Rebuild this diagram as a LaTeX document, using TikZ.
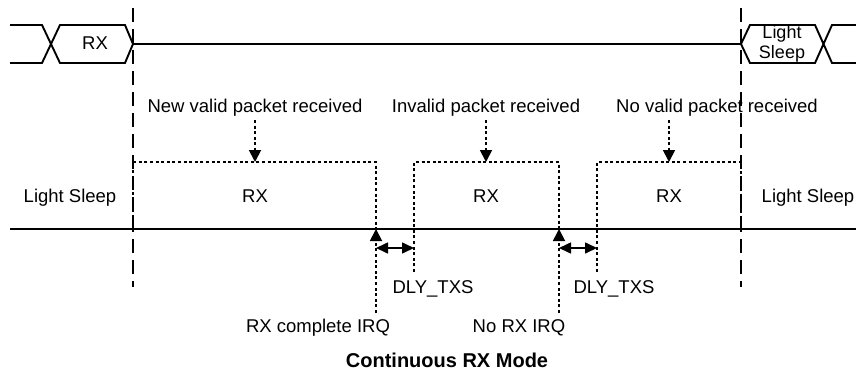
\documentclass[tikz,border=0pt]{standalone}
\usepackage{fontspec}
\setmainfont{Liberation Sans}
\usetikzlibrary{arrows.meta}
\begin{document}
\begin{tikzpicture}[x=1pt,y=-1pt,
  sig/.style={line width=1.9pt, line join=miter},
  guide/.style={line width=1.8pt, dash pattern=on 14pt off 7pt},
  dots/.style={line width=1.8pt, dash pattern=on 3pt off 2.6pt},
  lbl/.style={font=\fontsize{18.5}{20}\selectfont, inner sep=0pt, anchor=base},
  ttl/.style={font=\fontsize{20}{22}\selectfont\bfseries, inner sep=0pt, anchor=base},
  tip/.style={-{Triangle[length=12pt,width=12pt]}},
  dbl/.style={{Triangle[length=12pt,width=11pt]}-{Triangle[length=12pt,width=11pt]}, line width=1.6pt}
]
\useasboundingbox (0,0) rectangle (856,372);

% ---- top waveform ----
\draw[sig] (10,25) -- (42,25) -- (60,63) -- (125,63) -- (133,44) -- (125,25) -- (60,25) -- (42,63) -- (10,63);
\draw[sig] (133,44) -- (741,44);
\draw[sig] (856,25) -- (832,25) -- (815,63) -- (750,63) -- (741,44) -- (750,25) -- (815,25) -- (832,63) -- (856,63);
\node[lbl] (rxtop) at (95,49) {RX};
\node[font=\fontsize{18}{20}\selectfont, inner sep=0pt, align=center] (lstop) at (782,43.5) {Light\\Sleep};

% ---- guides ----
\coordinate (g1t) at (133,8);  \coordinate (g1b) at (133,287);
\coordinate (g2t) at (741,8);  \coordinate (g2b) at (741,287);
\draw[guide] (g1t) -- (g1b);
\draw[guide] (g2t) -- (g2b);

% ---- time axis ----
\coordinate (axL) at (10,229); \coordinate (axR) at (856,229);
\draw[sig] (axL) -- (axR);

% ---- RX windows ----
\draw[dots] (133,229) -- (133,162) -- (376,162) -- (376,229);
\draw[dots] (414,272) -- (414,162) -- (559,162) -- (559,229);
\draw[dots] (597,272) -- (597,162) -- (741,162) -- (741,229);

\node[lbl] (rx1) at (255,202) {RX};
\node[lbl] (rx2) at (486,202) {RX};
\node[lbl] (rx3) at (669,202) {RX};
\node[lbl] (lsl) at (70,202) {Light Sleep};
\node[lbl] (lsr) at (808,202) {Light Sleep};

% ---- event labels ----
\node[lbl] (ev1) at (255,112) {New valid packet received};
\node[lbl] (ev2) at (486,112) {Invalid packet received};
\node[lbl] (ev3) at (717,112) {No valid packet received};
\coordinate (e1s) at (255,120); \coordinate (e1t) at (255,162);
\coordinate (e2s) at (486,120); \coordinate (e2t) at (486,162);
\coordinate (e3s) at (669,120); \coordinate (e3t) at (669,162);
\draw[dots,tip] (e1s) -- (e1t);
\draw[dots,tip] (e2s) -- (e2t);
\draw[dots,tip] (e3s) -- (e3t);

% ---- IRQs ----
\node[lbl] (irq1) at (318,332) {RX complete IRQ};
\node[lbl] (irq2) at (519,332) {No RX IRQ};
\coordinate (i1s) at (376,313); \coordinate (i1t) at (376,229);
\coordinate (i2s) at (559,313); \coordinate (i2t) at (559,229);
\draw[dots,tip] (i1s) -- (i1t);
\draw[dots,tip] (i2s) -- (i2t);

% ---- delays ----
\node[lbl] (d1) at (433,293) {DLY\_TXS};
\node[lbl] (d2) at (614,293) {DLY\_TXS};
\coordinate (d1a) at (376,248); \coordinate (d1b) at (414,248);
\coordinate (d2a) at (559,248); \coordinate (d2b) at (597,248);
\draw[dbl] (d1a) -- (d1b);
\draw[dbl] (d2a) -- (d2b);

% ---- title ----
\node[ttl] (title) at (447,367) {Continuous RX Mode};
\end{tikzpicture}
\end{document}
